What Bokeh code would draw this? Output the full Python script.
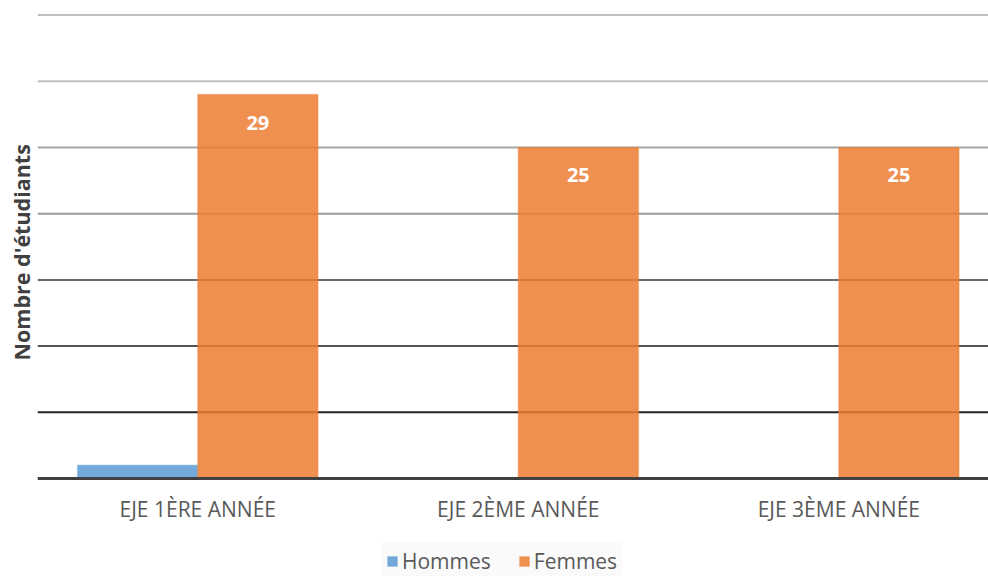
from bokeh.plotting import figure
from bokeh.models import (ColumnDataSource, Range1d, Span, LabelSet, Legend, LegendItem,
                          Title)
from bokeh.embed import file_html
from bokeh.resources import INLINE
from bokeh.core.properties import value

categories = ["EJE 1ÈRE ANNÉE", "EJE 2ÈME ANNÉE", "EJE 3ÈME ANNÉE"]
hommes = [1, 0, 0]
femmes = [29, 25, 25]
grid_levels = [5, 10, 15, 20, 25, 30, 35]

grid_colors = ["#222222", "#555555", "#6a6a6a", "#9a9a9a", "#a6a6a6", "#bfbfbf", "#bfbfbf"]
BLUE = "#5B9BD5"
ORANGE = "#ED7D31"
FONT = "Open Sans"

bar_w = 0.375
xc = [i + 0.5 for i in range(len(categories))]
src_h = ColumnDataSource(dict(x=[c - bar_w / 2 for c in xc], top=hommes))
src_f = ColumnDataSource(dict(x=[c + bar_w / 2 for c in xc], top=femmes,
                              lab=[str(v) for v in femmes]))
src_c = ColumnDataSource(dict(x=xc, y=[0] * len(categories), text=categories))

p = figure(frame_width=951, frame_height=567, output_backend="svg", toolbar_location=None,
           x_range=Range1d(0, 2.967), y_range=Range1d(-7.4, 35.42),
           min_border_left=37, min_border_right=0, min_border_top=9, min_border_bottom=0)
p.outline_line_color = None
p.background_fill_color = "white"
p.xgrid.visible = False
p.ygrid.visible = False
p.xaxis.visible = False
p.yaxis.visible = False

for lvl, col in zip(grid_levels, grid_colors):
    p.add_layout(Span(location=lvl, dimension="width", line_color=col, line_width=2,
                      level="underlay"))

rh = p.vbar(x="x", top="top", width=bar_w, source=src_h, fill_color=BLUE, fill_alpha=0.85,
            line_color=BLUE, line_alpha=0.35, line_width=1.5)
rf = p.vbar(x="x", top="top", width=bar_w, source=src_f, fill_color=ORANGE, fill_alpha=0.85,
            line_color=ORANGE, line_alpha=0.35, line_width=1.5)

# baseline (category axis line)
p.add_layout(Span(location=0, dimension="width", line_color="#404040", line_width=3))

# category labels
p.text(x="x", y="y", text="text", source=src_c, y_offset=30, text_align="center",
       text_baseline="middle", text_color="#595959", text_font=value(FONT),
       text_font_size="21px")

labels = LabelSet(x="x", y="top", text="lab", source=src_f, y_offset=-28,
                  text_align="center", text_baseline="middle", text_color="white",
                  text_font=value(FONT), text_font_style="bold", text_font_size="20px")
p.add_layout(labels)

# y axis title
ytitle = Title(text="Nombre d'étudiants", align="left", offset=216,
               text_font=FONT, text_font_style="bold", text_font_size="21.5px",
               text_color="#404040", standoff=4)
p.add_layout(ytitle, "left")

legend = Legend(items=[LegendItem(label="Hommes", renderers=[rh]),
                       LegendItem(label="Femmes", renderers=[rf])],
                orientation="horizontal", location=(344, -4),
                background_fill_color="#fafafa", background_fill_alpha=1,
                border_line_alpha=0, glyph_width=12, glyph_height=12,
                label_text_font=FONT, label_text_font_size="21px",
                label_text_color="#595959", spacing=27, padding=5, margin=0,
                label_standoff=4)
p.add_layout(legend, "center")

open("out.html", "w").write(file_html(p, INLINE))
